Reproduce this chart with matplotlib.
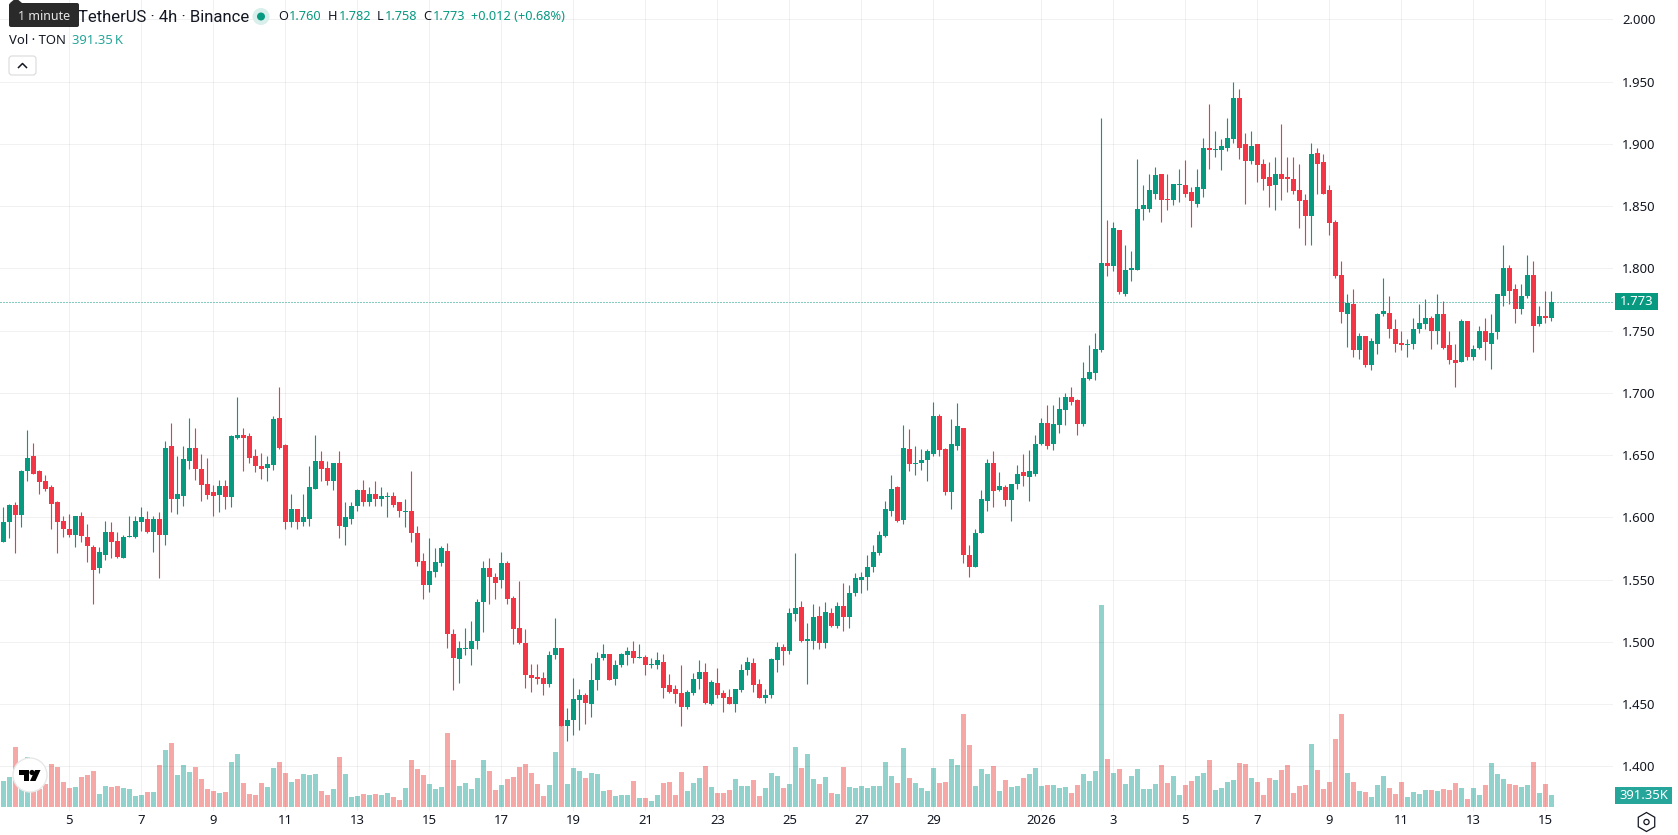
import matplotlib
matplotlib.use("Agg")
import matplotlib.pyplot as plt
import numpy as np
from matplotlib.patches import Circle, FancyBboxPatch, Polygon, Rectangle, RegularPolygon

plt.rcParams["font.family"] = ["Noto Sans", "DejaVu Sans"]

# 4h candles, first one opens on Dec 3 2025 at 04:00 exchange time
opens = [
    1.580, 1.596, 1.610, 1.602, 1.637, 1.649, 1.637, 1.629, 1.624, 1.612,
    1.597, 1.591, 1.586, 1.601, 1.584, 1.576, 1.559, 1.570, 1.588, 1.581,
    1.567, 1.584, 1.584, 1.596, 1.599, 1.588, 1.599, 1.586, 1.657, 1.615,
    1.617, 1.645, 1.656, 1.639, 1.627, 1.620, 1.618, 1.625, 1.616, 1.664,
    1.666, 1.665, 1.649, 1.641, 1.640, 1.642, 1.680, 1.658, 1.596, 1.607,
    1.596, 1.599, 1.623, 1.645, 1.640, 1.629, 1.644, 1.592, 1.599, 1.609,
    1.622, 1.612, 1.619, 1.615, 1.616, 1.617, 1.612, 1.604, 1.605, 1.587,
    1.565, 1.546, 1.556, 1.563, 1.573, 1.506, 1.486, 1.494, 1.494, 1.501,
    1.532, 1.559, 1.552, 1.550, 1.563, 1.535, 1.511, 1.499, 1.473, 1.472,
    1.471, 1.466, 1.489, 1.495, 1.432, 1.437, 1.453, 1.457, 1.450, 1.469,
    1.487, 1.490, 1.470, 1.481, 1.489, 1.493, 1.487, 1.488, 1.481, 1.481,
    1.484, 1.465, 1.462, 1.459, 1.448, 1.459, 1.470, 1.476, 1.450, 1.467,
    1.459, 1.456, 1.450, 1.461, 1.477, 1.483, 1.466, 1.455, 1.457, 1.485,
    1.496, 1.493, 1.522, 1.528, 1.501, 1.501, 1.521, 1.499, 1.523, 1.513,
    1.529, 1.520, 1.539, 1.550, 1.552, 1.560, 1.571, 1.585, 1.605, 1.624,
    1.598, 1.655, 1.643, 1.644, 1.646, 1.651, 1.681, 1.655, 1.620, 1.657,
    1.672, 1.570, 1.560, 1.587, 1.613, 1.644, 1.622, 1.624, 1.614, 1.627,
    1.636, 1.632, 1.635, 1.659, 1.676, 1.659, 1.674, 1.686, 1.697, 1.694,
    1.675, 1.711, 1.716, 1.734, 1.804, 1.802, 1.831, 1.779, 1.799, 1.799,
    1.848, 1.848, 1.860, 1.876, 1.856, 1.855, 1.867, 1.867, 1.861, 1.852,
    1.864, 1.897, 1.895, 1.895, 1.897, 1.904, 1.937, 1.900, 1.886, 1.900,
    1.884, 1.873, 1.867, 1.876, 1.873, 1.872, 1.863, 1.855, 1.842, 1.893,
    1.885, 1.863, 1.837, 1.795, 1.763, 1.771, 1.734, 1.746, 1.722, 1.739,
    1.763, 1.764, 1.751, 1.740, 1.738, 1.739, 1.751, 1.755, 1.760, 1.750,
    1.763, 1.738, 1.726, 1.725, 1.758, 1.729, 1.736, 1.750, 1.739, 1.749,
    1.778, 1.800, 1.783, 1.767, 1.778, 1.795, 1.755, 1.762, 1.760,
]
highs = [
    1.608, 1.611, 1.612, 1.638, 1.670, 1.660, 1.638, 1.634, 1.626, 1.613,
    1.601, 1.603, 1.601, 1.604, 1.595, 1.578, 1.576, 1.597, 1.596, 1.588,
    1.586, 1.601, 1.601, 1.608, 1.605, 1.601, 1.604, 1.661, 1.676, 1.649,
    1.657, 1.680, 1.672, 1.651, 1.648, 1.626, 1.630, 1.630, 1.666, 1.697,
    1.672, 1.668, 1.655, 1.652, 1.649, 1.681, 1.705, 1.659, 1.619, 1.607,
    1.619, 1.641, 1.666, 1.653, 1.645, 1.644, 1.653, 1.612, 1.612, 1.623,
    1.630, 1.624, 1.629, 1.624, 1.620, 1.620, 1.612, 1.615, 1.637, 1.593,
    1.571, 1.583, 1.575, 1.577, 1.579, 1.510, 1.501, 1.511, 1.517, 1.534,
    1.565, 1.567, 1.555, 1.572, 1.565, 1.537, 1.549, 1.510, 1.482, 1.482,
    1.476, 1.493, 1.519, 1.495, 1.447, 1.471, 1.462, 1.459, 1.483, 1.492,
    1.498, 1.490, 1.485, 1.491, 1.496, 1.501, 1.498, 1.489, 1.487, 1.492,
    1.490, 1.474, 1.465, 1.481, 1.461, 1.475, 1.485, 1.483, 1.469, 1.479,
    1.461, 1.462, 1.462, 1.482, 1.488, 1.487, 1.470, 1.462, 1.487, 1.500,
    1.498, 1.527, 1.571, 1.533, 1.515, 1.530, 1.529, 1.532, 1.527, 1.532,
    1.547, 1.546, 1.555, 1.556, 1.570, 1.578, 1.589, 1.613, 1.634, 1.625,
    1.674, 1.671, 1.657, 1.655, 1.655, 1.693, 1.683, 1.656, 1.679, 1.692,
    1.672, 1.578, 1.591, 1.622, 1.647, 1.653, 1.636, 1.626, 1.627, 1.642,
    1.651, 1.654, 1.666, 1.680, 1.690, 1.690, 1.697, 1.700, 1.705, 1.695,
    1.725, 1.738, 1.748, 1.921, 1.839, 1.837, 1.831, 1.819, 1.814, 1.888,
    1.867, 1.876, 1.881, 1.876, 1.876, 1.868, 1.880, 1.887, 1.865, 1.880,
    1.905, 1.932, 1.910, 1.904, 1.921, 1.950, 1.944, 1.909, 1.910, 1.900,
    1.888, 1.885, 1.889, 1.916, 1.889, 1.889, 1.884, 1.860, 1.901, 1.897,
    1.892, 1.867, 1.839, 1.806, 1.779, 1.783, 1.748, 1.746, 1.744, 1.764,
    1.792, 1.778, 1.759, 1.750, 1.743, 1.760, 1.771, 1.775, 1.762, 1.779,
    1.774, 1.750, 1.739, 1.759, 1.758, 1.738, 1.754, 1.760, 1.763, 1.779,
    1.819, 1.803, 1.787, 1.787, 1.811, 1.806, 1.770, 1.782, 1.782,
]
lows = [
    1.580, 1.583, 1.571, 1.592, 1.629, 1.635, 1.619, 1.621, 1.591, 1.571,
    1.584, 1.584, 1.576, 1.580, 1.564, 1.530, 1.555, 1.566, 1.567, 1.567,
    1.567, 1.584, 1.583, 1.589, 1.587, 1.572, 1.551, 1.578, 1.604, 1.603,
    1.609, 1.639, 1.630, 1.613, 1.615, 1.601, 1.604, 1.607, 1.608, 1.663,
    1.637, 1.644, 1.636, 1.631, 1.629, 1.638, 1.655, 1.591, 1.592, 1.591,
    1.593, 1.593, 1.623, 1.629, 1.626, 1.622, 1.583, 1.578, 1.595, 1.605,
    1.609, 1.609, 1.609, 1.609, 1.600, 1.608, 1.600, 1.592, 1.580, 1.561,
    1.534, 1.540, 1.552, 1.561, 1.495, 1.461, 1.467, 1.489, 1.481, 1.494,
    1.508, 1.530, 1.534, 1.543, 1.530, 1.498, 1.498, 1.463, 1.460, 1.466,
    1.457, 1.464, 1.486, 1.432, 1.420, 1.425, 1.429, 1.434, 1.440, 1.461,
    1.485, 1.469, 1.465, 1.480, 1.481, 1.483, 1.487, 1.473, 1.479, 1.478,
    1.455, 1.459, 1.451, 1.432, 1.446, 1.457, 1.462, 1.450, 1.449, 1.455,
    1.444, 1.450, 1.444, 1.460, 1.473, 1.460, 1.455, 1.451, 1.455, 1.476,
    1.481, 1.490, 1.517, 1.500, 1.466, 1.494, 1.494, 1.495, 1.512, 1.511,
    1.509, 1.511, 1.537, 1.539, 1.542, 1.556, 1.570, 1.584, 1.601, 1.596,
    1.595, 1.637, 1.634, 1.638, 1.629, 1.649, 1.649, 1.618, 1.607, 1.654,
    1.563, 1.552, 1.560, 1.587, 1.605, 1.608, 1.621, 1.609, 1.597, 1.623,
    1.625, 1.613, 1.633, 1.658, 1.655, 1.654, 1.668, 1.674, 1.690, 1.666,
    1.673, 1.710, 1.710, 1.733, 1.794, 1.798, 1.779, 1.778, 1.790, 1.799,
    1.839, 1.845, 1.856, 1.837, 1.847, 1.851, 1.853, 1.857, 1.833, 1.849,
    1.857, 1.880, 1.889, 1.879, 1.894, 1.901, 1.888, 1.852, 1.884, 1.869,
    1.863, 1.849, 1.847, 1.855, 1.861, 1.860, 1.832, 1.819, 1.819, 1.860,
    1.860, 1.827, 1.792, 1.756, 1.737, 1.729, 1.727, 1.721, 1.718, 1.731,
    1.762, 1.744, 1.733, 1.734, 1.729, 1.735, 1.748, 1.751, 1.735, 1.739,
    1.735, 1.723, 1.705, 1.725, 1.726, 1.726, 1.735, 1.726, 1.719, 1.743,
    1.770, 1.771, 1.756, 1.763, 1.776, 1.733, 1.754, 1.756, 1.758,
]
closes = [
    1.596, 1.610, 1.602, 1.637, 1.648, 1.635, 1.628, 1.623, 1.611, 1.596,
    1.591, 1.586, 1.601, 1.585, 1.577, 1.558, 1.572, 1.588, 1.580, 1.568,
    1.584, 1.585, 1.597, 1.600, 1.588, 1.599, 1.586, 1.656, 1.615, 1.619,
    1.647, 1.656, 1.639, 1.626, 1.618, 1.617, 1.625, 1.616, 1.665, 1.666,
    1.664, 1.648, 1.641, 1.639, 1.643, 1.679, 1.656, 1.596, 1.607, 1.596,
    1.600, 1.624, 1.645, 1.639, 1.629, 1.644, 1.593, 1.600, 1.609, 1.622,
    1.612, 1.619, 1.615, 1.617, 1.617, 1.610, 1.605, 1.605, 1.587, 1.564,
    1.546, 1.557, 1.564, 1.575, 1.506, 1.487, 1.495, 1.495, 1.501, 1.532,
    1.559, 1.552, 1.547, 1.563, 1.534, 1.510, 1.499, 1.473, 1.471, 1.470,
    1.466, 1.489, 1.495, 1.432, 1.437, 1.454, 1.457, 1.451, 1.469, 1.487,
    1.490, 1.469, 1.481, 1.490, 1.493, 1.487, 1.488, 1.481, 1.482, 1.485,
    1.463, 1.460, 1.458, 1.448, 1.460, 1.470, 1.476, 1.451, 1.468, 1.457,
    1.455, 1.450, 1.462, 1.477, 1.484, 1.465, 1.455, 1.457, 1.486, 1.496,
    1.493, 1.523, 1.527, 1.501, 1.502, 1.520, 1.499, 1.524, 1.513, 1.529,
    1.520, 1.539, 1.551, 1.552, 1.560, 1.572, 1.586, 1.607, 1.623, 1.597,
    1.656, 1.643, 1.644, 1.646, 1.653, 1.681, 1.654, 1.620, 1.659, 1.673,
    1.570, 1.560, 1.587, 1.615, 1.644, 1.621, 1.625, 1.614, 1.627, 1.635,
    1.633, 1.637, 1.659, 1.676, 1.657, 1.675, 1.687, 1.697, 1.693, 1.675,
    1.712, 1.717, 1.735, 1.804, 1.802, 1.832, 1.781, 1.799, 1.800, 1.848,
    1.851, 1.863, 1.875, 1.855, 1.855, 1.868, 1.868, 1.860, 1.854, 1.865,
    1.897, 1.895, 1.896, 1.898, 1.905, 1.937, 1.897, 1.886, 1.898, 1.883,
    1.872, 1.866, 1.876, 1.872, 1.872, 1.862, 1.854, 1.842, 1.892, 1.884,
    1.860, 1.836, 1.794, 1.765, 1.772, 1.734, 1.746, 1.722, 1.742, 1.763,
    1.766, 1.751, 1.739, 1.738, 1.739, 1.751, 1.756, 1.760, 1.750, 1.763,
    1.736, 1.726, 1.724, 1.758, 1.729, 1.735, 1.750, 1.741, 1.748, 1.779,
    1.800, 1.782, 1.767, 1.778, 1.795, 1.754, 1.762, 1.760, 1.773,
]
# volume in thousands of TON
volumes = [
    848, 978, 1957, 1370, 1631, 870, 587, 750, 1402, 1304,
    815, 620, 652, 978, 1044, 1174, 424, 685, 652, 685,
    620, 587, 359, 391, 489, 489, 1370, 1859, 2087, 1044,
    1370, 1141, 1304, 913, 587, 522, 457, 489, 1467, 1728,
    783, 424, 391, 783, 652, 1272, 1467, 1109, 815, 913,
    1076, 1044, 1076, 522, 391, 587, 1631, 1076, 326, 359,
    424, 391, 424, 391, 457, 326, 228, 620, 1533, 1239,
    1044, 750, 587, 652, 2413, 1533, 685, 783, 587, 946,
    1533, 1174, 554, 717, 913, 978, 1304, 1402, 1109, 750,
    359, 717, 1794, 2837, 750, 1272, 1174, 946, 1109, 1076,
    522, 554, 359, 391, 391, 848, 293, 293, 196, 391,
    783, 815, 391, 1141, 522, 783, 946, 1337, 652, 457,
    457, 554, 913, 685, 685, 880, 359, 620, 1109, 1011,
    620, 750, 1957, 1272, 1728, 913, 750, 978, 457, 424,
    1304, 652, 620, 685, 620, 685, 685, 1467, 1011, 783,
    1924, 946, 783, 620, 522, 1272, 783, 815, 1565, 1370,
    3033, 2022, 685, 1239, 1076, 1337, 522, 880, 652, 685,
    946, 1076, 1272, 685, 717, 717, 620, 652, 457, 717,
    1076, 848, 1174, 6587, 1565, 1109, 1239, 750, 1011, 1239,
    587, 587, 750, 1370, 783, 1011, 391, 717, 848, 1011,
    1109, 1533, 554, 620, 815, 880, 1435, 1402, 946, 815,
    391, 946, 880, 1207, 1370, 457, 685, 717, 2054, 1207,
    587, 815, 2217, 3033, 1109, 815, 522, 489, 326, 717,
    1011, 620, 424, 815, 326, 489, 424, 554, 554, 522,
    587, 554, 783, 620, 261, 620, 391, 717, 1435, 1076,
    913, 750, 717, 652, 717, 1467, 457, 750, 391.35,
]

price_ticks = [1.40, 1.45, 1.50, 1.55, 1.60, 1.65, 1.70, 1.75, 1.80, 1.85, 1.90, 1.95, 2.00]
time_ticks = [11, 23, 35, 47, 59, 71, 83, 95, 107, 119, 131, 143, 155,
              173, 185, 197, 209, 221, 233, 245, 257]
time_labels = ["5", "7", "9", "11", "13", "15", "17", "19", "21", "23", "25", "27", "29",
               "2026", "3", "5", "7", "9", "11", "13", "15"]

GREEN = "#089981"
RED = "#F23645"
VOL_GREEN = "#26A69A"
VOL_RED = "#EF5350"
TEXT = "#131722"
W, H = 1678, 835
PLOT_R, PLOT_B = 1613, 811

o = np.array(opens)
h = np.array(highs)
l = np.array(lows)
c = np.array(closes)
v = np.array(volumes)
idx = np.arange(len(o))
up = c >= o
colors = np.where(up, GREEN, RED)

fig = plt.figure(figsize=(W / 100, H / 100), dpi=100, facecolor="white")
rect = [0, (H - PLOT_B) / H, PLOT_R / W, PLOT_B / H]
xlim = (-0.555, 268.28)

# volume sits in its own axes under the candles
ax_vol = fig.add_axes(rect, zorder=1)
ax_vol.set_xlim(xlim)
ax_vol.set_ylim(-130, 26310)
ax_vol.axis("off")
ax_vol.bar(idx, v, width=0.83, color=np.where(up, VOL_GREEN, VOL_RED), alpha=0.5, linewidth=0)

ax = fig.add_axes(rect, zorder=2)
ax.patch.set_alpha(0)
ax.set_xlim(xlim)
ax.set_ylim(1.3641, 2.0155)
for s in ax.spines.values():
    s.set_visible(False)

ax.set_yticks(price_ticks)
ax.set_yticklabels(["%.3f" % p for p in price_ticks])
ax.yaxis.tick_right()
ax.set_xticks(time_ticks)
ax.set_xticklabels(time_labels)
ax.tick_params(axis="both", length=0, labelsize=9.4, labelcolor=TEXT)
ax.tick_params(axis="y", pad=6.5)
ax.tick_params(axis="x", pad=2.5)
for lab in ax.get_xticklabels():
    if lab.get_text() == "2026":
        lab.set_fontweight("bold")
ax.grid(True, color="black", alpha=0.055, linewidth=0.72)
ax.set_axisbelow(True)

wicks = ax.vlines(idx, l, h, colors=colors, linewidth=0.8, zorder=3)
wicks.set_snap(True)
ax.bar(idx, np.abs(c - o), bottom=np.minimum(o, c), width=0.83, color=colors, linewidth=0, zorder=4)

# last price line
price_line = ax.axhline(closes[-1], color=GREEN, linewidth=0.72, linestyle=(0, (1, 2)), zorder=5)
price_line.set_snap(True)

# everything else is chart furniture, placed in pixels
ui = fig.add_axes([0, 0, 1, 1], zorder=3)
ui.set_xlim(0, W)
ui.set_ylim(H, 0)
ui.axis("off")
ui.patch.set_alpha(0)

# price tags on the scale
ui.add_patch(Rectangle((1615, 293), 43, 17, color=GREEN, linewidth=0))
ui.text(1636.5, 301.5, "%.3f" % closes[-1], color="white", fontsize=9.4, ha="center", va="center")
ui.add_patch(Rectangle((1615, 787), 57, 17, color=VOL_GREEN, linewidth=0))
ui.text(1643.5, 795.5, "391.35K", color="white", fontsize=9.4, ha="center", va="center")

# legend row
ui.text(78, 17, "TetherUS · 4h · Binance", color=TEXT, fontsize=12, family=["Roboto", "DejaVu Sans"],
        ha="left", va="center")
ui.add_patch(Circle((261, 16.5), 8.5, color="#D9EFEB", linewidth=0))
ui.add_patch(Circle((261, 16.5), 4, color=GREEN, linewidth=0))
ohlc_row = [("O", 278), ("1.760", 289), ("H", 328), ("1.782", 339),
            ("L", 377), ("1.758", 385), ("C", 423), ("1.773", 433),
            ("+0.012 (+0.68%)", 471)]
for t, x in ohlc_row:
    col = TEXT if t in "OHLC" else GREEN
    ui.text(x, 17, t, color=col, fontsize=9.2, ha="left", va="center")

ui.text(9, 41, "Vol · TON", color=TEXT, fontsize=9.4, ha="left", va="center")
ui.text(72, 41, "391.35\u2009K", color=VOL_GREEN, fontsize=9.4, ha="left", va="center")

# collapse button
ui.add_patch(FancyBboxPatch((9, 56), 27, 19, boxstyle="round,pad=0,rounding_size=3",
                            facecolor="white", edgecolor="#DADADA", linewidth=0.8))
ui.plot([18.5, 22.5, 26.5], [67.5, 63.5, 67.5], color=TEXT, linewidth=1.1)

# tooltip
ui.add_patch(FancyBboxPatch((9, 3), 70, 24, boxstyle="round,pad=0,rounding_size=2",
                            facecolor="#2A2A2A", edgecolor="none"))
ui.add_patch(Polygon([[10, 3], [16, -2], [22, 3]], facecolor="#2A2A2A", edgecolor="none"))
ui.text(44, 16, "1 minute", color="#E6E6E6", fontsize=9, ha="center", va="center")

# logo badge
ui.add_patch(Circle((30, 775), 17, facecolor="white", edgecolor="#E8E8E8", linewidth=1))
ui.add_patch(Polygon([[18.5, 770], [29, 770], [29, 781], [24, 781], [24, 775], [18.5, 775]],
                     facecolor="black", edgecolor="none"))
ui.add_patch(Circle((32, 772.5), 2.6, facecolor="black", edgecolor="none"))
ui.add_patch(Polygon([[35, 770], [40.5, 770], [35.5, 781], [30, 781]], facecolor="black", edgecolor="none"))

# scale settings icon
ui.add_patch(RegularPolygon((1646.5, 822), 6, radius=9.5, orientation=0, facecolor="none",
                            edgecolor=TEXT, linewidth=0.9))
ui.add_patch(Circle((1646.5, 822), 2.6, facecolor="none", edgecolor=TEXT, linewidth=0.9))

fig.savefig("out.png", dpi=100, facecolor="white")
